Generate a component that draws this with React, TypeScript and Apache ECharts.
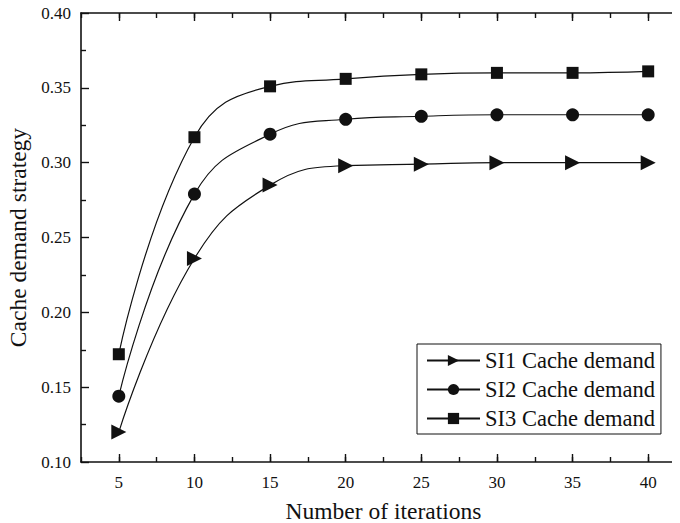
import React, { useEffect, useRef } from "react";
import * as echarts from "echarts";

const iterations = [5, 10, 15, 20, 25, 30, 35, 40];
const si1 = [0.120, 0.236, 0.285, 0.298, 0.299, 0.300, 0.300, 0.300];
const si2 = [0.144, 0.279, 0.319, 0.329, 0.331, 0.332, 0.332, 0.332];
const si3 = [0.172, 0.317, 0.351, 0.356, 0.359, 0.360, 0.360, 0.361];
const seriesNames = ["SI1 Cache demand", "SI2 Cache demand", "SI3 Cache demand"];
const xTitle = "Number of iterations";
const yTitle = "Cache demand strategy";

const FONT = "'Liberation Serif', 'Times New Roman', serif";
const BLACK = "#111";

export default function App() {
  const ref = useRef<HTMLDivElement>(null);
  useEffect(() => {
    if (!ref.current) return;
    const chart = echarts.init(ref.current, null, { renderer: "svg" });
    const pairs = (ys: number[]) => iterations.map((x, i) => [x, ys[i]]);
    const lineAxis = { lineStyle: { color: BLACK, width: 1.6 } };
    const xBase = { type: "value", min: 2.5, max: 42.5, gridIndex: 0, splitLine: { show: false } };
    const option: any = {
      animation: false,
      backgroundColor: "#fff",
      grid: { left: 81, top: 13, right: -6, bottom: 61, outerBoundsMode: "none", containLabel: false },
      legend: {
        orient: "vertical",
        left: 417,
        top: 344,
        padding: [5, 6, 4, 9],
        itemWidth: 53,
        itemHeight: 14,
        itemGap: 6,
        borderColor: BLACK,
        borderWidth: 1,
        backgroundColor: "#fff",
        textStyle: { fontFamily: FONT, fontSize: 22.5, color: BLACK },
        data: seriesNames,
      },
      xAxis: [
        {
          ...xBase,
          position: "bottom",
          interval: 2.5,
          axisLine: lineAxis,
          axisTick: { inside: true, length: 5, lineStyle: { color: BLACK, width: 1.4 } },
          axisLabel: { show: false },
          name: xTitle,
          nameLocation: "middle",
          nameGap: 37,
          nameTextStyle: { fontFamily: FONT, fontSize: 23.5, color: BLACK },
        },
        {
          ...xBase,
          position: "bottom",
          axisLine: { show: false },
          axisTick: { inside: true, length: 8, customValues: iterations, lineStyle: { color: BLACK, width: 1.4 } },
          axisLabel: { customValues: iterations, fontFamily: FONT, fontSize: 17, color: BLACK, margin: 12 },
        },
        {
          ...xBase,
          position: "top",
          interval: 2.5,
          axisLine: lineAxis,
          axisTick: { inside: true, length: 5, lineStyle: { color: BLACK, width: 1.4 } },
          axisLabel: { show: false },
        },
        {
          ...xBase,
          position: "top",
          axisLine: { show: false },
          axisTick: { inside: true, length: 8, customValues: iterations, lineStyle: { color: BLACK, width: 1.4 } },
          axisLabel: { show: false },
        },
      ],
      yAxis: [
        {
          type: "value",
          position: "left",
          min: 0.1,
          max: 0.4,
          interval: 0.05,
          splitLine: { show: false },
          axisLine: lineAxis,
          axisTick: { inside: true, length: 8, lineStyle: { color: BLACK, width: 1.4 } },
          minorTick: { show: true, splitNumber: 2, length: 5, lineStyle: { color: BLACK, width: 1.4 } },
          axisLabel: {
            formatter: (v: number) => v.toFixed(2),
            fontFamily: FONT,
            fontSize: 17,
            color: BLACK,
            margin: 10,
          },
          name: yTitle,
          nameLocation: "middle",
          nameGap: 50,
          nameTextStyle: { fontFamily: FONT, fontSize: 23.5, color: BLACK },
        },
        {
          type: "value",
          position: "right",
          min: 0.1,
          max: 0.4,
          interval: 0.05,
          splitLine: { show: false },
          axisLine: lineAxis,
          axisTick: { inside: true, length: 8, lineStyle: { color: BLACK, width: 1.4 } },
          minorTick: { show: true, splitNumber: 2, length: 5, lineStyle: { color: BLACK, width: 1.4 } },
          axisLabel: { show: false },
        },
      ],
      series: [
        { data: pairs(si1), symbol: "triangle", symbolRotate: -90, symbolSize: 15 },
        { data: pairs(si2), symbol: "circle", symbolSize: 13 },
        { data: pairs(si3), symbol: "rect", symbolSize: 12 },
      ].map((s, i) => ({
        ...s,
        name: seriesNames[i],
        type: "line",
        xAxisIndex: 0,
        yAxisIndex: 0,
        smooth: 0.45,
        showAllSymbol: true,
        lineStyle: { color: BLACK, width: 1.2 },
        itemStyle: { color: BLACK },
      })),
    };
    chart.setOption(option);
    return () => chart.dispose();
  }, []);
  return <div ref={ref} style={{ width: 680, height: 523, marginTop: -8, marginLeft: -8 }} />;
}
